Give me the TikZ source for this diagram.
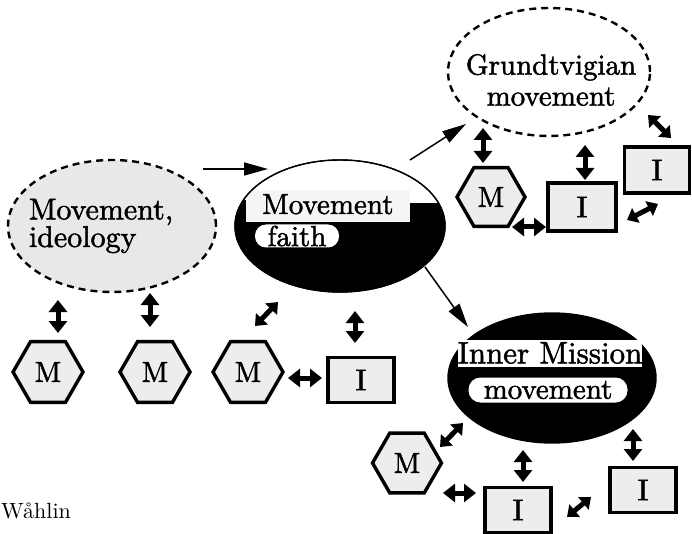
\documentclass[tikz,border=0pt]{standalone}
\usepackage{fontspec}
\setmainfont{lmroman10-regular}[Extension=.otf]
\newfontfamily\heavy{lmroman10-regular}[Extension=.otf,FakeBold=1.6]
\usetikzlibrary{shapes.geometric,arrows.meta}
\tikzset{
  lbl/.style={font=\heavy\fontsize{28}{30}\selectfont},
  dashell/.style={ellipse,draw,line width=2.4pt,dash pattern=on 7pt off 5pt,inner sep=0pt},
  blackell/.style={ellipse,draw,fill=black,line width=1.4pt,inner sep=0pt},
  hexa/.style={regular polygon,regular polygon sides=6,draw,line width=3.4pt,fill=black!7,inner sep=0pt,font=\heavy\fontsize{29}{30}\selectfont},
  ibox/.style={rectangle,draw,line width=3.4pt,fill=black!7,inner sep=0pt,minimum width=66pt,minimum height=45pt,font=\heavy\fontsize{30}{30}\selectfont},
  dbl/.style={line width=5pt,{Triangle[length=12pt,width=18pt]}-{Triangle[length=12pt,width=18pt]}},
  dbls/.style={line width=5pt,{Triangle[length=10pt,width=16pt]}-{Triangle[length=10pt,width=16pt]}},
  mainarr/.style={line width=1.5pt,-{Triangle[length=24pt,width=13pt]}},
  whitetag/.style={fill=white,inner sep=0pt,lbl}
}
\begin{document}
\begin{tikzpicture}[x=1pt,y=-1pt]
\path[use as bounding box] (0,0) rectangle (692,534);

% big ellipses
\node[dashell,fill=black!9,minimum width=208pt,minimum height=132pt] (ideo) at (112,226) {};
\node[lbl,align=left,inner sep=0pt,font=\heavy\fontsize{30}{25.5}\selectfont] (ideotext) at (101,226) {Movement,\\ideology};

\node[blackell,minimum width=210pt,minimum height=132pt] (faith) at (340,226) {};
\begin{scope}
  \clip (340,226) ellipse [x radius=104.5pt, y radius=65.5pt];
  \fill[white] (230,150) rectangle (450,200);
  \fill[black!4] (246,190) rectangle (410,222);
  \fill[white] (410,150) rectangle (450,203);
\end{scope}
\draw[line width=1.4pt] (340,226) ellipse [x radius=105pt, y radius=66pt];
\node[lbl,anchor=base west,inner sep=0pt,font=\heavy\fontsize{29}{30}\selectfont] (faithA) at (262,214) {Movement};
\node[whitetag,rounded corners=11pt,minimum width=84pt,minimum height=23pt,font=\heavy\fontsize{29}{30}\selectfont] (faithB) at (297,236) {\raisebox{-3pt}{faith}};

\node[dashell,minimum width=202pt,minimum height=128pt] (grund) at (549,72) {};
\node[lbl,align=center,inner sep=0pt,font=\heavy\fontsize{29}{31}\selectfont] (grundtext) at (551,80) {Grundtvigian\\movement};

\node[blackell,minimum width=208pt,minimum height=130pt] (inner) at (552,378) {};
\node[whitetag,minimum width=184pt,minimum height=27pt,font=\heavy\fontsize{31}{30}\selectfont] (innerA) at (550,353) {Inner Mission};
\node[whitetag,rounded corners=12pt,minimum width=159pt,minimum height=25pt,font=\heavy\fontsize{29}{30}\selectfont] (innerB) at (548,390) {\raisebox{-2pt}{movement}};

% hexagons and boxes
\node[hexa,minimum size=70pt] (h1) at (48,372) {M};
\node[hexa,minimum size=70pt] (h2) at (155,372) {M};
\node[hexa,minimum size=70pt] (h3) at (248,372) {M};
\node[ibox] (b1) at (361,380) {I};

\node[hexa,minimum size=68pt] (gM) at (491,197) {M};
\node[ibox,minimum width=68pt,minimum height=48pt] (gI1) at (582,207) {I};
\node[ibox,minimum width=65pt,minimum height=46pt] (gI2) at (657,170) {I};

\node[hexa,minimum size=69pt] (iM) at (407,463) {M};
\node[ibox] (iI1) at (518,510) {I};
\node[ibox] (iI2) at (643,490) {I};

% main arrows
\coordinate (a1s) at (203,169); \coordinate (a1e) at (268,169);
\coordinate (a2s) at (410,160); \coordinate (a2e) at (466,124);
\coordinate (a3s) at (425,267); \coordinate (a3e) at (468,327);
\draw[mainarr] (a1s) -- (a1e);
\draw[mainarr] (a2s) -- (a2e);
\draw[mainarr] (a3s) -- (a3e);

% straight double arrows
\coordinate (d1a) at (58,300);  \coordinate (d1b) at (58,333);
\coordinate (d2a) at (150,293); \coordinate (d2b) at (150,327);
\coordinate (d4a) at (355,311); \coordinate (d4b) at (355,343);
\coordinate (d5a) at (288,378); \coordinate (d5b) at (322,378);
\coordinate (d6a) at (483,128); \coordinate (d6b) at (483,163);
\coordinate (d7a) at (585,145); \coordinate (d7b) at (585,180);
\coordinate (d9a) at (512,227); \coordinate (d9b) at (546,227);
\coordinate (d12a) at (523,450); \coordinate (d12b) at (523,482);
\coordinate (d13a) at (443,493); \coordinate (d13b) at (476,493);
\coordinate (d15a) at (633,429); \coordinate (d15b) at (633,461);
\foreach \i in {1,2,4,5,6,7,9,12,13,15} {\draw[dbl] (d\i a) -- (d\i b);}

% slanted double arrows
\coordinate (d3a) at (255,326); \coordinate (d3b) at (278,302);
\coordinate (d8a) at (648,115); \coordinate (d8b) at (671,138);
\coordinate (d10a) at (627,220); \coordinate (d10b) at (658,204);
\coordinate (d11a) at (440,447); \coordinate (d11b) at (463,423);
\coordinate (d14a) at (567,517); \coordinate (d14b) at (591,497);
\foreach \i in {3,8,10,11,14} {\draw[dbls] (d\i a) -- (d\i b);}

% credit
\node[anchor=base west,inner sep=0pt,font=\fontsize{22}{24}\selectfont] (credit) at (1,518) {Wåhlin};
\end{tikzpicture}
\end{document}
